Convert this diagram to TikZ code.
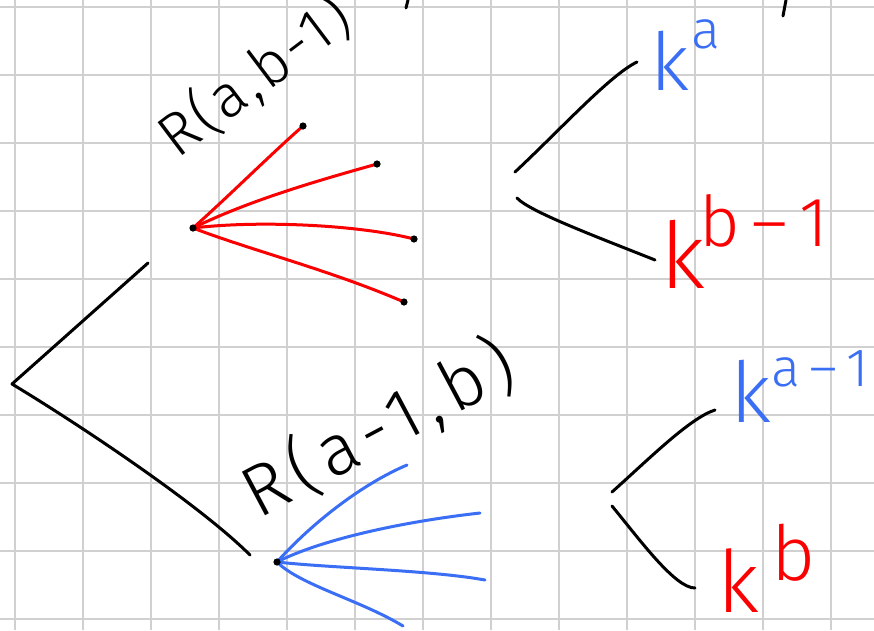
\documentclass[tikz,border=0pt]{standalone}
\usepackage{fontspec}
\newfontfamily\hand{Fira Sans Light}
\definecolor{inkblue}{RGB}{58,110,245}
\definecolor{inkred}{RGB}{250,0,0}
\definecolor{gridgray}{RGB}{208,208,208}
\begin{document}
\begin{tikzpicture}[x=1pt,y=-1pt,
  gridline/.style={draw=gridgray, line width=2.3pt},
  ink/.style={line width=3pt, line cap=round, line join=round},
  dot/.style={fill=black},
  lbl/.style={inner sep=0pt, anchor=base west}]
\useasboundingbox (0,0) rectangle (874,630);
\fill[white] (0,0) rectangle (874,630);
% squared paper
\foreach \i in {0,...,12} \draw[gridline] ({15+68*\i},0) -- ({15+68*\i},630);
\foreach \j in {0,...,9} \draw[gridline] (0,{7+68*\j}) -- (874,{7+68*\j});

% points of the two fans
\coordinate (rc) at (193,228);
\coordinate (r1) at (303,126);
\coordinate (r2) at (377,164);
\coordinate (r3) at (414,239);
\coordinate (r4) at (404,302);
\coordinate (bc) at (277,562);
\coordinate (b1) at (407,465);
\coordinate (b2) at (480,513);
\coordinate (b3) at (485,580);
\coordinate (b4) at (403,626);

% left split
\coordinate (L0) at (12,384);
\coordinate (Lt) at (148,263);
\coordinate (Lb) at (250,555);
\draw[ink] (Lt) -- (L0) .. controls (80,425) and (200,505) .. (Lb);

% red fan
\draw[ink, inkred] (rc) .. controls (230,195) and (270,155) .. (r1);
\draw[ink, inkred] (rc) .. controls (250,200) and (320,180) .. (r2);
\draw[ink, inkred] (rc) .. controls (260,220) and (360,225) .. (r3);
\draw[ink, inkred] (rc) .. controls (250,250) and (330,270) .. (r4);
\foreach \p in {rc,r1,r2,r3,r4} \fill[dot] (\p) circle (3.6);

% blue fan
\draw[ink, inkblue] (bc) .. controls (310,525) and (360,485) .. (b1);
\draw[ink, inkblue] (bc) .. controls (320,540) and (400,522) .. (b2);
\draw[ink, inkblue] (bc) .. controls (330,568) and (430,570) .. (b3);
\draw[ink, inkblue] (bc) .. controls (300,585) and (360,600) .. (b4);
\fill[dot] (bc) circle (3.6);

% fan labels
\node[lbl, rotate=37, font=\hand\fontsize{60}{60}\selectfont\addfontfeature{LetterSpace=6}] (Rtop) at (177,160) {R(a,b-1)};
\node[lbl, rotate=28, font=\hand\fontsize{72}{72}\selectfont\addfontfeature{LetterSpace=12}] (Rbot) at (258,520) {R(a-1,b)};

% upper right split
\coordinate (U0) at (515,172);
\coordinate (U1) at (637,62);
\coordinate (U2) at (517,198);
\coordinate (U3) at (655,260);
\draw[ink] (U0) .. controls (560,130) and (610,75) .. (U1);
\draw[ink] (U2) .. controls (530,212) and (600,238) .. (U3);

% lower right split
\coordinate (D0) at (612,492);
\coordinate (D1) at (715,410);
\coordinate (D2) at (612,506);
\coordinate (D3) at (695,588);
\draw[ink] (D0) .. controls (650,458) and (690,418) .. (D1);
\draw[ink] (D2) .. controls (640,540) and (675,588) .. (D3);

% powers of k
\node[lbl, text=inkblue, font=\hand\fontsize{80}{80}\selectfont] (ka) at (650,90)
  {k\kern2pt\raisebox{42pt}{\fontsize{54}{54}\selectfont a}};
\node[lbl, text=inkred, font=\hand\fontsize{92}{92}\selectfont] (kb1) at (660,288)
  {k\kern-6pt\raisebox{42pt}{\fontsize{70}{70}\selectfont b\,\textendash\,1}};
\node[lbl, text=inkblue, font=\hand\fontsize{84}{84}\selectfont] (ka1) at (730,422)
  {k\raisebox{36pt}{\fontsize{54}{54}\selectfont a\,\textendash\,1}};
\node[lbl, text=inkred, font=\hand\fontsize{86}{86}\selectfont] (kb) at (717,612)
  {k\raisebox{32pt}{\fontsize{76}{76}\selectfont\,b}};

% stray pen marks along the top edge
\coordinate (s1) at (408,0);
\coordinate (s2) at (406,8);
\coordinate (s3) at (786,0);
\coordinate (s4) at (783,16);
\draw[ink] (s1) -- (s2);
\draw[ink] (s3) -- (s4);
\end{tikzpicture}
\end{document}
